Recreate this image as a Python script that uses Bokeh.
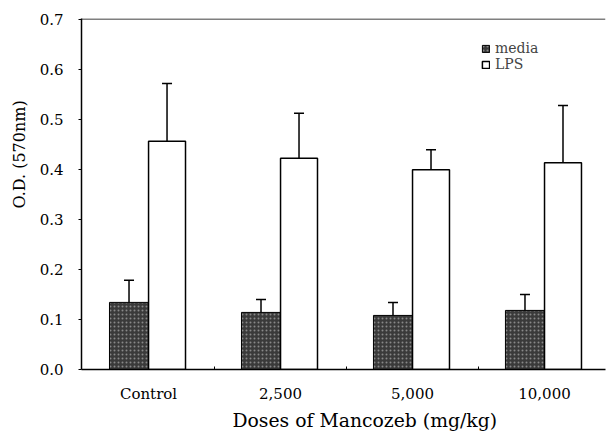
from bokeh.plotting import figure
from bokeh.models import (ColumnDataSource, FixedTicker, Whisker, TeeHead, Legend,
                          LegendItem, Span, Title, Range1d, PrintfTickFormatter)
from bokeh.transform import dodge
from bokeh.embed import file_html
from bokeh.resources import INLINE

groups = ["Control", "2,500", "5,000", "10,000"]
media = [0.134, 0.114, 0.108, 0.118]
media_err = [0.044, 0.026, 0.026, 0.032]
lps = [0.456, 0.422, 0.399, 0.413]
lps_err = [0.115, 0.090, 0.040, 0.114]
yticks = [0.0, 0.1, 0.2, 0.3, 0.4, 0.5, 0.6, 0.7]

FONT = "DejaVu Serif"

xs = list(range(len(groups)))
src = ColumnDataSource(dict(
    x=xs,
    media=media,
    lps=lps,
    media_up=[m + e for m, e in zip(media, media_err)],
    lps_up=[m + e for m, e in zip(lps, lps_err)],
))

p = figure(width=606, height=432, x_range=Range1d(-0.508, 3.462), y_range=Range1d(0, 0.701),
           output_backend="svg", toolbar_location=None,
           min_border_left=81, min_border_right=1, min_border_top=18, min_border_bottom=63)
p.outline_line_color = None
p.xgrid.grid_line_color = None
p.ygrid.grid_line_color = None

mr = p.vbar(x=dodge('x', -0.148), top='media', width=0.296, source=src,
            fill_color="#3a3a3a", line_color="black", line_width=1,
            hatch_pattern="dot", hatch_color="#bdbdbd", hatch_scale=4, hatch_alpha=0.6)
lr = p.vbar(x=dodge('x', 0.14), top='lps', width=0.28, source=src,
            fill_color="white", line_color="black", line_width=1.5)

for base_off, lo, hi in [(-0.148, 'media', 'media_up'), (0.14, 'lps', 'lps_up')]:
    w = Whisker(source=src, base=dodge('x', base_off), lower=lo, upper=hi,
                line_width=1.5, line_color="black",
                upper_head=TeeHead(size=10, line_width=1.5, line_color="black"),
                lower_head=None)
    p.add_layout(w)

p.add_layout(Span(location=yticks[-1], dimension="width", line_color="black", line_width=1))

legend = Legend(items=[LegendItem(label="media", renderers=[mr]),
                       LegendItem(label="LPS", renderers=[lr])],
                location=(400, 297), border_line_color=None, background_fill_alpha=0,
                padding=0, margin=0, spacing=-2, glyph_width=9, glyph_height=9,
                label_height=14, label_standoff=5,
                label_text_font=FONT, label_text_font_size="14px")
p.add_layout(legend)

xa = p.xaxis[0]
xa.ticker = FixedTicker(ticks=xs, minor_ticks=[0.5, 1.5, 2.5])
xa.major_label_overrides = {i: g for i, g in zip(xs, groups)}
xa.major_tick_line_color = None
xa.minor_tick_in = 3
xa.minor_tick_out = 0
xa.axis_line_width = 1.5
xa.major_label_standoff = 9
xa.major_label_text_font = FONT
xa.major_label_text_font_size = "15px"
xa.major_label_text_color = "black"

ya = p.yaxis[0]
ya.ticker = FixedTicker(ticks=yticks)
ya.formatter = PrintfTickFormatter(format="%.1f")
ya.minor_tick_line_color = None
ya.major_tick_out = 3
ya.major_tick_in = 0
ya.axis_line_width = 1.5
ya.major_label_standoff = 15
ya.major_label_text_font = FONT
ya.major_label_text_font_size = "15px"
ya.major_label_text_color = "black"

p.add_layout(Title(text="O.D. (570nm)", align="left", offset=161, standoff=15,
                   text_font=FONT, text_font_size="16px", text_font_style="normal",
                   text_color="black"), "left")
p.add_layout(Title(text="Doses of Mancozeb (mg/kg)", align="left", offset=151, standoff=4,
                   text_font=FONT, text_font_size="18.8px", text_font_style="normal",
                   text_color="black"), "below")

open("out.html", "w").write(file_html(p, INLINE))
